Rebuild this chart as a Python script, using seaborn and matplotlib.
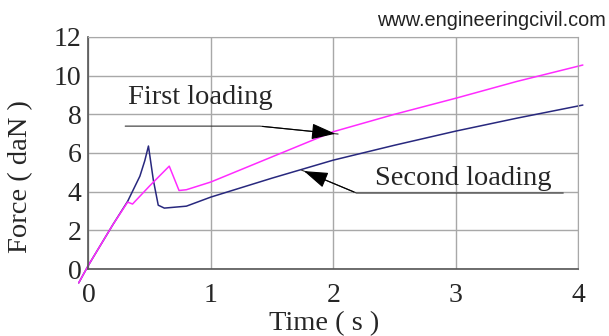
import pandas as pd
import numpy as np
import matplotlib.pyplot as plt
import seaborn as sns

# Datos
t_second = [-0.08, 0.0, 0.2, 0.32, 0.42, 0.46, 0.49, 0.53, 0.57, 0.62, 0.8, 1.0, 1.5, 2.0, 2.5, 3.0, 3.5, 4.04]
f_second = [-0.72, 0.2, 2.3, 3.5, 4.8, 5.6, 6.36, 4.6, 3.3, 3.15, 3.25, 3.72, 4.7, 5.63, 6.4, 7.13, 7.8, 8.48]

t_first = [-0.08, 0.0, 0.2, 0.32, 0.36, 0.5, 0.66, 0.74, 0.8, 1.0, 1.5, 2.0, 2.5, 3.0, 3.5, 4.04]
f_first = [-0.72, 0.2, 2.3, 3.46, 3.36, 4.3, 5.32, 4.06, 4.1, 4.5, 5.8, 7.1, 8.0, 8.83, 9.7, 10.55]

x_ticks = [0, 1, 2, 3, 4]
y_ticks = [0, 2, 4, 6, 8, 10, 12]

df1 = pd.DataFrame({'t': t_first, 'f': f_first})
df2 = pd.DataFrame({'t': t_second, 'f': f_second})

sns.set_style('white')
serif = ['Liberation Serif', 'DejaVu Serif']
plt.rcParams['font.family'] = serif

fig = plt.figure(figsize=(6.09, 3.36), dpi=100)
ax = fig.add_axes([0.1453, 0.1994, 0.8037, 0.6905])

sns.lineplot(data=df2, x='t', y='f', sort=False, color='#28287e', lw=1.1, ax=ax, clip_on=False)
sns.lineplot(data=df1, x='t', y='f', sort=False, color='#ff2bff', lw=1.1, ax=ax, clip_on=False)

ax.set_xlim(0, 4)
ax.set_ylim(0, 12)
ax.set_xticks(x_ticks)
ax.set_yticks(y_ticks)
ax.grid(True, color='#a8a8a8', lw=1)
for s in ['top', 'right']:
    ax.spines[s].set_color('#a8a8a8')
for s in ['left', 'bottom']:
    ax.spines[s].set_color('#555555')
    ax.spines[s].set_linewidth(1.2)

ax.tick_params(axis='y', direction='out', length=4, width=1, color='#555555', labelsize=20, pad=1)
ax.tick_params(axis='x', direction='inout', length=6, width=1, color='#555555', labelsize=20, pad=7)

ax.set_xlabel('Time ( s )', fontsize=20.5)
ax.set_ylabel('Force ( daN )', fontsize=20.5)
ax.xaxis.set_label_coords(0.481, -0.18)
ax.yaxis.set_label_coords(-0.113, 0.40)

# flechas
head = '-|>,head_length=1.5,head_width=0.5'
ax.plot([0.30, 1.40, 2.04], [7.39, 7.39, 6.98], color='#333333', lw=0.8, clip_on=False)
ax.annotate('', xy=(2.04, 6.98), xytext=(1.40, 7.39),
            arrowprops=dict(arrowstyle=head, color='black', lw=0.8))
ax.text(0.91, 8.89, 'First loading', fontsize=20.5, ha='center', va='center')

ax.plot([3.88, 2.19, 1.74], [3.93, 3.93, 5.12], color='#333333', lw=0.8, clip_on=False)
ax.annotate('', xy=(1.74, 5.12), xytext=(2.19, 3.93),
            arrowprops=dict(arrowstyle=head, color='black', lw=0.8))
ax.text(3.06, 4.70, 'Second loading', fontsize=20.5, ha='center', va='center')

fig.text(0.995, 0.94, 'www.engineeringcivil.com', fontsize=14.3, ha='right', va='center',
         family=['Liberation Sans', 'DejaVu Sans'], color='#222222')

fig.savefig('out.png', dpi=100)
